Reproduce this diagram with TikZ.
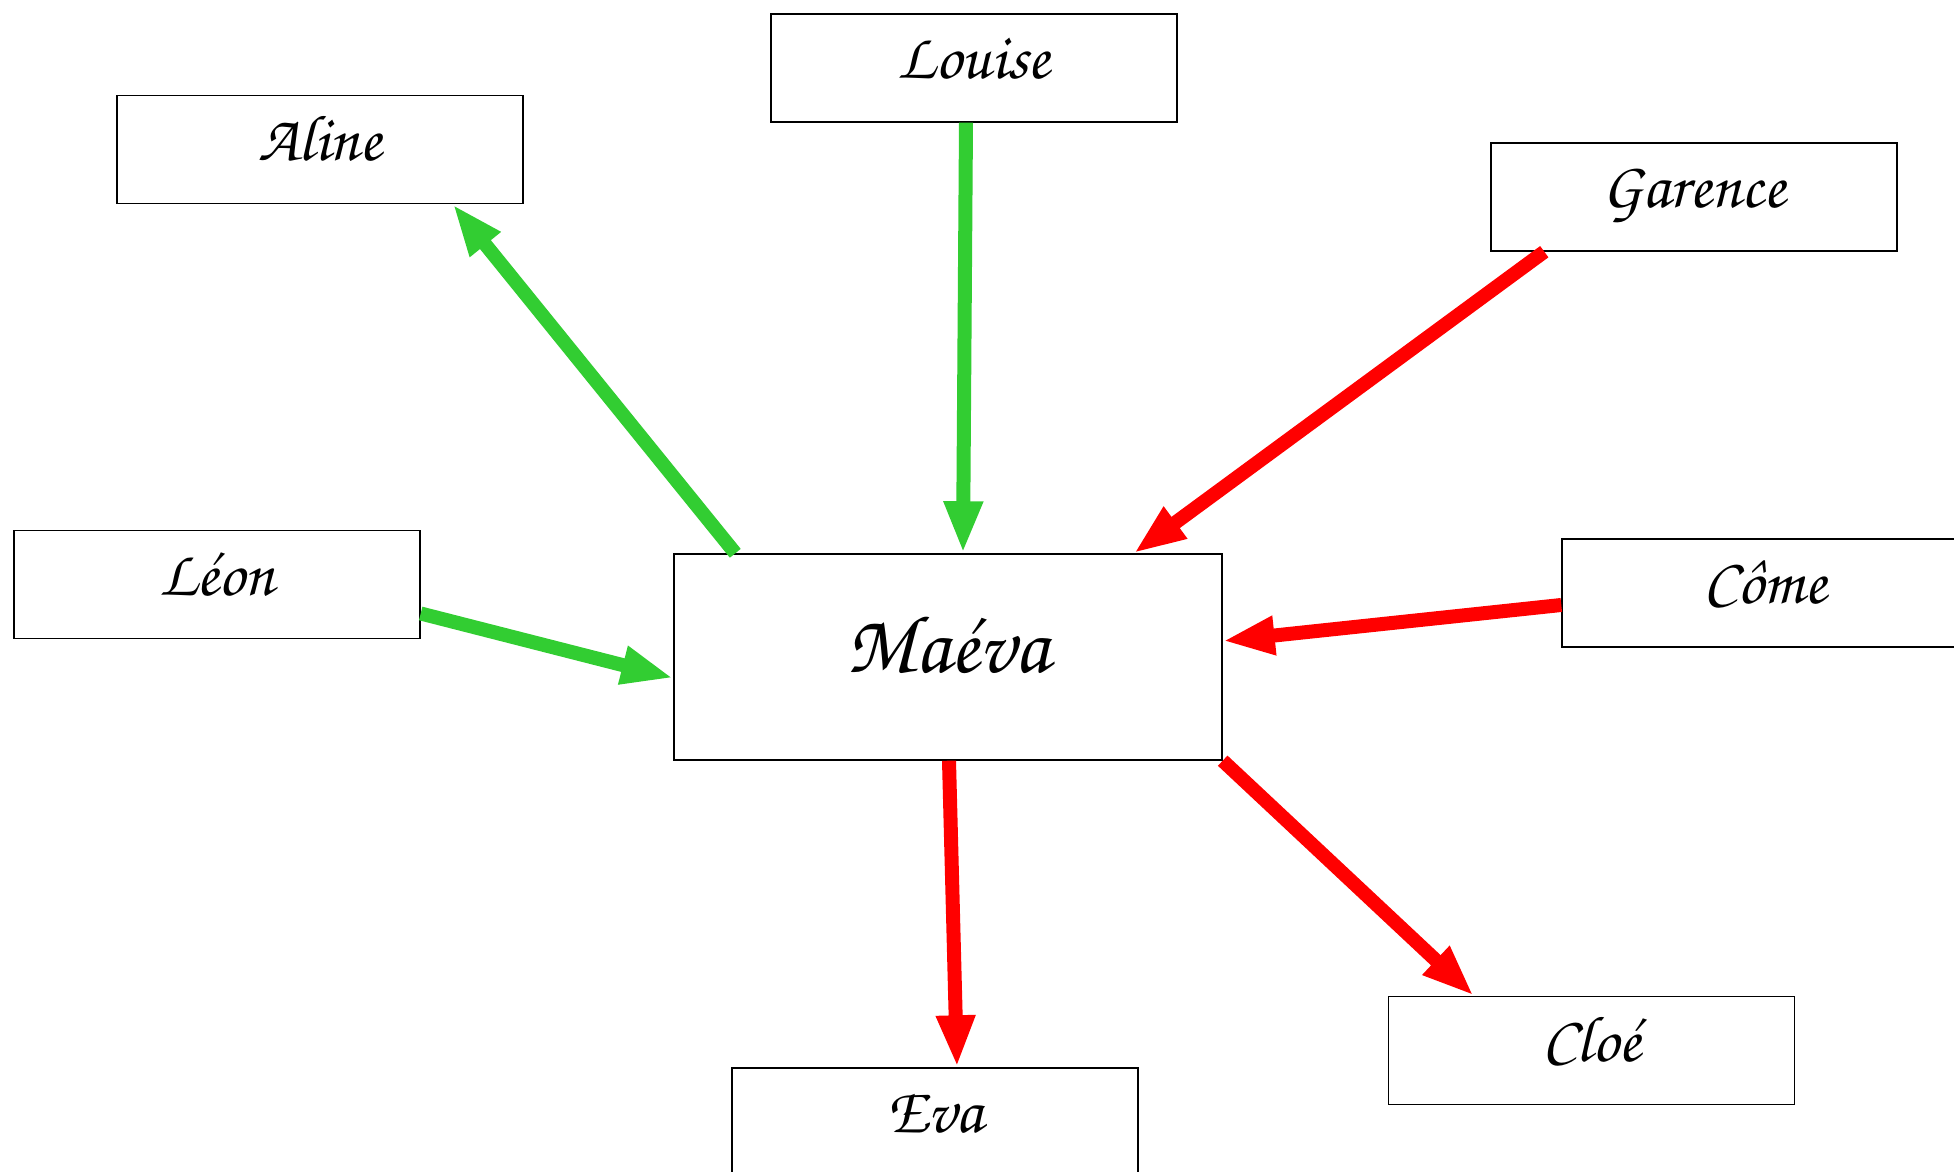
\documentclass[tikz,border=0pt]{standalone}
\usepackage{fontspec}
\newfontfamily\namefont{texgyrechorus-mediumitalic.otf}
\usepackage{xcolor}
\usetikzlibrary{arrows.meta,positioning,calc}

\definecolor{linkgreen}{RGB}{50,205,50}
\definecolor{linkred}{RGB}{255,0,0}

\tikzset{
    namebox/.style={draw, rectangle, line width=0.4pt, minimum width=40.6mm, minimum height=10.8mm,
        text height=4.5mm, text depth=2.3mm, font=\namefont\fontsize{18.5}{22}\selectfont},
    bigbox/.style={namebox, minimum width=54.8mm, minimum height=20.6mm,
        text height=5mm, text depth=1.8mm, font=\namefont\fontsize{23.5}{28}\selectfont},
    link/.style={line width=1.4mm, -{Triangle[length=5.2mm,width=3.6mm]}}
}

\begin{document}
\begin{tikzpicture}[x=0.1mm,y=-0.1mm]
    \useasboundingbox (0,0) rectangle (1954,1172);

    % Centre
    \node[bigbox] (maeva) at (948,657) {Maéva};

    % Friends
    \foreach \id/\txt/\x/\y in {louise/Louise/974/68, aline/Aline/320/149.5,
        garence/Garence/1694/197, leon/Léon/217/584.5, come/Côme/1765/593,
        cloe/Cloé/1591.5/1050.5, eva/Eva/935/1122} {
        \node[namebox] (\id) at (\x,\y) {\txt};
    }

    % Green links
    \draw[link, linkgreen] ($(louise.south)+(-8,0)$) -- ($(maeva.north)+(15,0)$);
    \draw[link, linkgreen] ($(maeva.north west)+(62,0)$) -- ($(aline.south east)+(-71,0)$);
    \draw[link, linkgreen] ($(leon.east)+(0,29)$) -- ($(maeva.west)+(0,21)$);

    % Red links
    \draw[link, linkred] ($(garence.south west)+(54,0)$) -- ($(maeva.north east)+(-89,0)$);
    \draw[link, linkred] ($(come.west)+(0,12)$) -- ($(maeva.east)+(0,-16)$);
    \draw[link, linkred] ($(maeva.south)+(1,0)$) -- ($(eva.north)+(22,0)$);
    \draw[link, linkred] (maeva.south east) -- ($(cloe.north west)+(86,0)$);
\end{tikzpicture}
\end{document}
